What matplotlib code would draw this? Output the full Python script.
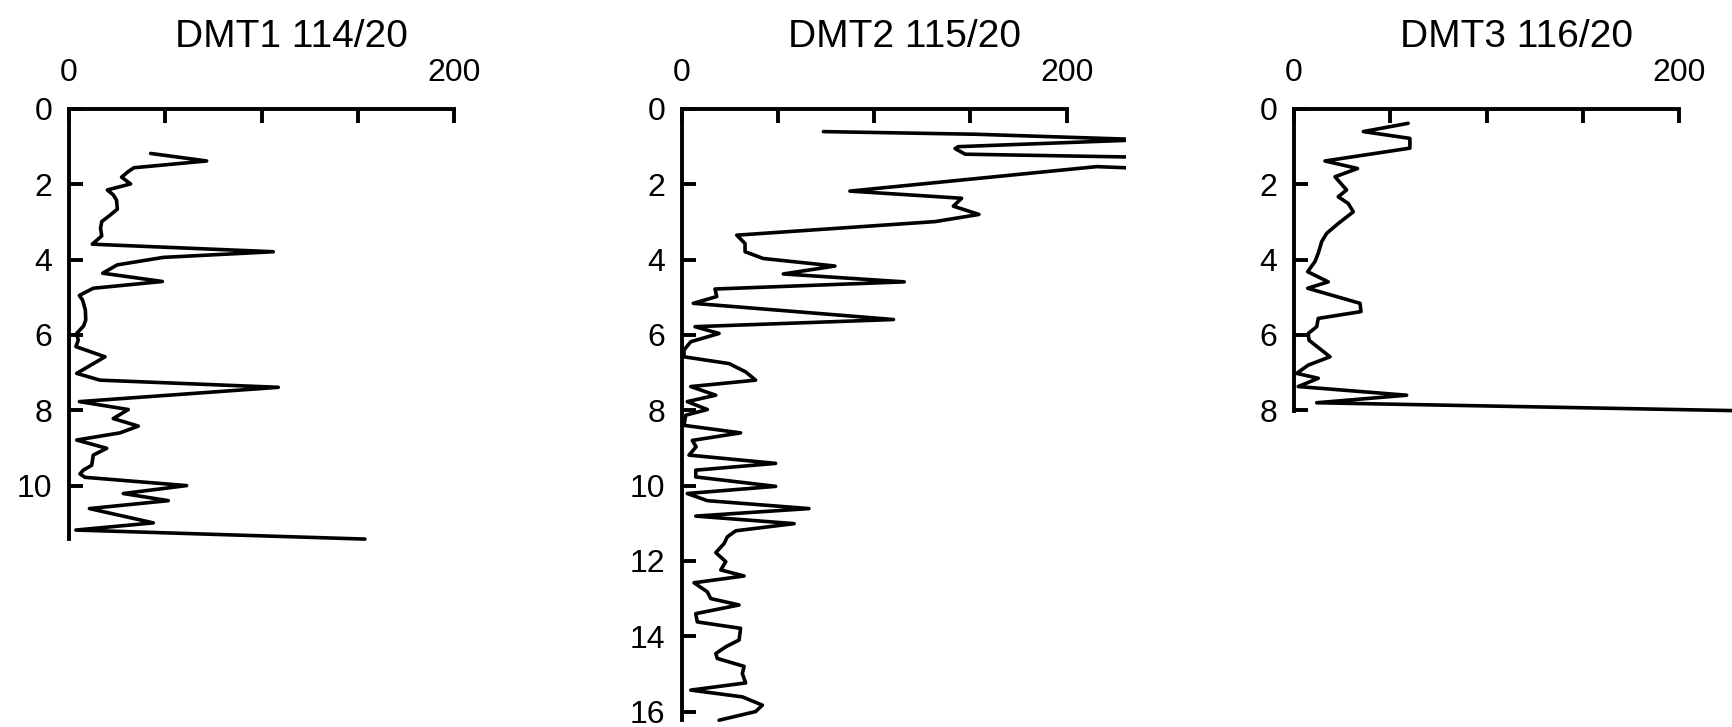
import numpy as np
import matplotlib.pyplot as plt

plt.rcParams['font.family'] = ['Liberation Sans', 'DejaVu Sans']

# ---------------------------------------------------
# PROFILE DATA (depth, value)
# ---------------------------------------------------

dmt1_depth = [1.18, 1.38, 1.56, 1.66, 1.81, 1.99, 2.15, 2.28, 2.42, 2.66,
              2.82, 2.99, 3.17, 3.37, 3.59, 3.79, 3.94, 4.14, 4.36, 4.58,
              4.76, 4.95, 5.08, 5.34, 5.60, 5.76, 5.96, 6.14, 6.31, 6.58,
              7.02, 7.20, 7.39, 7.77, 7.98, 8.22, 8.42, 8.60, 8.79, 9.01,
              9.19, 9.46, 9.59, 9.69, 9.78, 10.00, 10.21, 10.40, 10.61, 10.99,
              11.18, 11.42]
dmt1_value = [42.4, 71.5, 33.7, 30.8, 27.3, 32.0, 19.9, 23.0, 24.7, 25.1,
              21.3, 17.0, 16.4, 17.0, 12.1, 106.1, 49.0, 25.0, 17.5, 48.5,
              12.6, 5.4, 7.1, 8.5, 8.7, 7.6, 4.0, 4.8, 3.6, 18.7,
              4.0, 16.1, 108.7, 5.4, 30.8, 23.0, 36.0, 26.5, 4.0, 19.6,
              12.6, 11.8, 7.4, 5.7, 8.3, 61.1, 28.2, 51.6, 10.6, 43.8,
              3.6, 153.7]

dmt2_depth = [0.60, 0.67, 0.815, 1.00, 1.05, 1.20, 1.29, 1.62, 1.53, 2.18,
              2.37, 2.58, 2.80, 2.99, 3.35, 3.57, 3.79, 3.97, 4.17, 4.38,
              4.59, 4.78, 4.98, 5.16, 5.59, 5.78, 5.96, 6.18, 6.40, 6.58,
              6.76, 6.98, 7.20, 7.37, 7.60, 7.77, 7.98, 8.13, 8.40, 8.60,
              8.80, 8.97, 9.19, 9.41, 9.59, 9.77, 10.02, 10.21, 10.40, 10.61,
              10.81, 11.01, 11.20, 11.36, 11.54, 11.78, 12.02, 12.24, 12.40, 12.58,
              12.82, 13.00, 13.17, 13.40, 13.62, 13.79, 14.10, 14.28, 14.46, 14.59,
              14.80, 14.99, 15.24, 15.43, 15.61, 15.83, 16.00, 16.23]
dmt2_value = [73.6, 152.4, 240.0, 143.7, 142.0, 147.2, 250.0, 260.0, 215.6, 87.4,
              145.4, 141.1, 154.4, 131.6, 28.6, 32.9, 32.9, 42.4, 79.6, 52.8,
              115.6, 17.3, 18.2, 6.0, 110.0, 6.9, 19.4, 4.7, 1.2, 1.2,
              24.6, 33.2, 38.4, 4.7, 17.7, 2.9, 13.3, 2.1, 1.2, 30.6,
              5.5, 7.5, 3.8, 48.8, 7.3, 7.3, 48.8, 2.9, 13.3, 66.1,
              7.3, 58.4, 28.1, 23.7, 22.0, 17.7, 22.9, 20.3, 32.4, 6.4,
              13.3, 15.1, 29.8, 7.3, 8.1, 30.6, 29.8, 22.9, 17.7, 18.5,
              32.4, 31.5, 33.2, 4.7, 31.5, 41.9, 38.4, 19.4]

dmt3_depth = [0.38, 0.60, 0.78, 1.04, 1.38, 1.58, 1.80, 2.15, 2.33, 2.51,
              2.73, 3.04, 3.30, 3.52, 3.83, 4.05, 4.32, 4.59, 4.76, 5.16,
              5.38, 5.56, 5.78, 5.96, 6.14, 6.58, 6.80, 7.02, 7.15, 7.37,
              7.60, 7.80, 8.03]
dmt3_value = [59.3, 36.0, 60.2, 60.2, 16.1, 33.0, 21.3, 27.3, 23.0, 28.2,
              30.8, 23.0, 17.0, 14.4, 12.6, 10.9, 7.1, 17.8, 7.1, 34.3,
              34.8, 12.6, 11.8, 7.4, 7.8, 18.7, 7.4, 1.4, 12.6, 2.2,
              58.5, 11.8, 250.0]

titles = ['DMT1 114/20', 'DMT2 115/20', 'DMT3 116/20']
depths = [dmt1_depth, dmt2_depth, dmt3_depth]
values = [dmt1_value, dmt2_value, dmt3_value]

# ---------------------------------------------------
# PLOT
# ---------------------------------------------------

W, H = 1733, 727
fig = plt.figure(figsize=(W / 100, H / 100), dpi=100)

panel_left = [69, 681.7, 1294]   # pixel position of each depth axis
panel_width = 444.7
panel_top = 109

for left, title, d, v in zip(panel_left, titles, depths, values):
    ax = fig.add_axes([left / W, 0, panel_width / W, (H - panel_top) / H])
    d = np.array(d)

    ax.plot(v, d, color='black', lw=2.6,
            solid_joinstyle='round', solid_capstyle='round')

    ax.set_xlim(0, 231)
    ax.set_ylim(16.41, 0)

    # axes like base R: top and left only
    ax.spines['right'].set_visible(False)
    ax.spines['bottom'].set_visible(False)
    ax.spines['top'].set_bounds(0, 200)
    ax.spines['left'].set_bounds(0, d.max())
    for side in ['top', 'left']:
        ax.spines[side].set_linewidth(2.8)
        ax.spines[side].set_capstyle('projecting')

    ax.xaxis.tick_top()
    ax.set_xticks([0, 50, 100, 150, 200])
    ax.set_xticklabels(['0', '', '', '', '200'])
    yt = np.arange(0, d.max() + 0.01, 2)
    ax.set_yticks(yt)
    ax.set_yticklabels([f'{t:.0f}' for t in yt])
    ax.tick_params(axis='both', direction='in', length=10, width=2.8,
                   labelsize=23, colors='black')
    ax.tick_params(axis='x', pad=15)
    ax.tick_params(axis='y', pad=12)

    ax.annotate(title, xy=(0.5, 1), xycoords='axes fraction',
                xytext=(0, 44.6), textcoords='offset points',
                ha='center', va='baseline', fontsize=28)

fig.savefig('out.png', dpi=100)
